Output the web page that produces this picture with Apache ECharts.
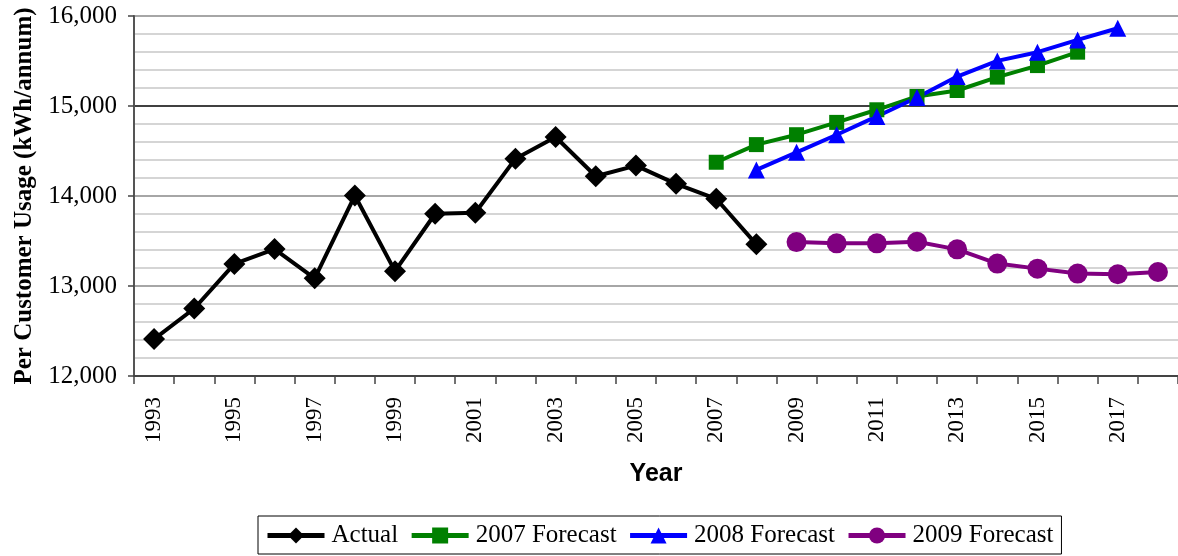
<!DOCTYPE html>
<html>
<head>
<meta charset="utf-8">
<script src="https://cdn.jsdelivr.net/npm/echarts@6/dist/echarts.min.js"></script>
<style>
  html, body { margin: 0; padding: 0; background: #fff; }
  #chart { width: 1178px; height: 556px; }
</style>
</head>
<body>
<div id="chart"></div>
<script>
// Years on the category axis
const years = ['1993','1994','1995','1996','1997','1998','1999','2000','2001','2002','2003','2004','2005',
               '2006','2007','2008','2009','2010','2011','2012','2013','2014','2015','2016','2017','2018'];

// Per customer usage, kWh/annum (null where a series has no value)
const actual = [12410, 12750, 13245, 13410, 13086, 14005, 13165, 13803, 13814, 14415, 14656, 14219, 14338,
                14135, 13969, 13463, null, null, null, null, null, null, null, null, null, null];
const forecast2007 = [null, null, null, null, null, null, null, null, null, null, null, null, null,
                      null, 14375, 14571, 14681, 14818, 14958, 15106, 15172, 15321, 15449, 15598, null, null];
const forecast2008 = [null, null, null, null, null, null, null, null, null, null, null, null, null,
                      null, null, 14290, 14485, 14681, 14884, 15095, 15327, 15501, 15598, 15734, 15864, null];
const forecast2009 = [null, null, null, null, null, null, null, null, null, null, null, null, null,
                      null, null, null, 13488, 13474, 13474, 13492, 13407, 13249, 13193, 13138, 13130, 13156];

const serif = '"Liberation Serif", "Times New Roman", serif';
const sans = '"Liberation Sans", Arial, sans-serif';

const chart = echarts.init(document.getElementById('chart'), null, { renderer: 'canvas' });

function lineSeries(name, data, color, symbol, size) {
  return {
    name, type: 'line', data, symbol, symbolSize: size,
    connectNulls: false, animation: false,
    lineStyle: { color, width: 4 },
    itemStyle: { color },
    emphasis: { disabled: true }
  };
}

chart.setOption({
  animation: false,
  grid: { left: 134, top: 16, width: 1049, height: 360, containLabel: false },
  xAxis: {
    type: 'category',
    data: years,
    boundaryGap: true,
    name: 'Year',
    nameLocation: 'middle',
    nameGap: 86,
    nameTextStyle: { fontFamily: sans, fontWeight: 'bold', fontSize: 25, color: '#000' },
    axisLine: { lineStyle: { color: '#444', width: 2 } },
    axisTick: { show: true, interval: 0, length: 8, lineStyle: { color: '#444', width: 1.5 } },
    axisLabel: {
      interval: 1, rotate: 90, margin: 21,
      fontFamily: serif, fontSize: 23, color: '#000'
    },
    splitLine: { show: false }
  },
  yAxis: {
    type: 'value',
    min: 12000, max: 16000, interval: 1000,
    name: 'Per Customer Usage (kWh/annum)',
    nameLocation: 'middle',
    nameGap: 97,
    nameRotate: 90,
    nameTextStyle: { fontFamily: serif, fontWeight: 'bold', fontSize: 25, color: '#000' },
    axisLine: { show: true, lineStyle: { color: '#555', width: 2 } },
    axisTick: { show: true, length: 6, inside: false, lineStyle: { color: '#444', width: 1.5 } },
    axisLabel: {
      margin: 17, fontFamily: serif, fontSize: 25, color: '#000',
      formatter: v => v.toLocaleString('en-US')
    },
    splitLine: { show: true, lineStyle: { color: ['#888', '#888', '#888', '#000', '#888'], width: 1.5 } },
    minorTick: { show: false, splitNumber: 5 },
    minorSplitLine: { show: true, lineStyle: { color: '#c8c8c8', width: 1.5 } }
  },
  legend: {
    left: 258, top: 516,
    orient: 'horizontal',
    padding: [7, 8, 6, 7],
    itemGap: 11,
    itemWidth: 57, itemHeight: 20,
    borderColor: '#000', borderWidth: 1,
    lineStyle: { width: 5 },
    textStyle: { fontFamily: serif, fontSize: 25, color: '#000', padding: [0, 0, 0, 2] },
    data: ['Actual', '2007 Forecast', '2008 Forecast', '2009 Forecast']
  },
  series: [
    lineSeries('Actual', actual, '#000000', 'diamond', 22),
    lineSeries('2007 Forecast', forecast2007, '#008000', 'rect', 15),
    lineSeries('2008 Forecast', forecast2008, '#0000ff', 'triangle', 17),
    lineSeries('2009 Forecast', forecast2009, '#800080', 'circle', 20)
  ]
});
</script>
</body>
</html>
